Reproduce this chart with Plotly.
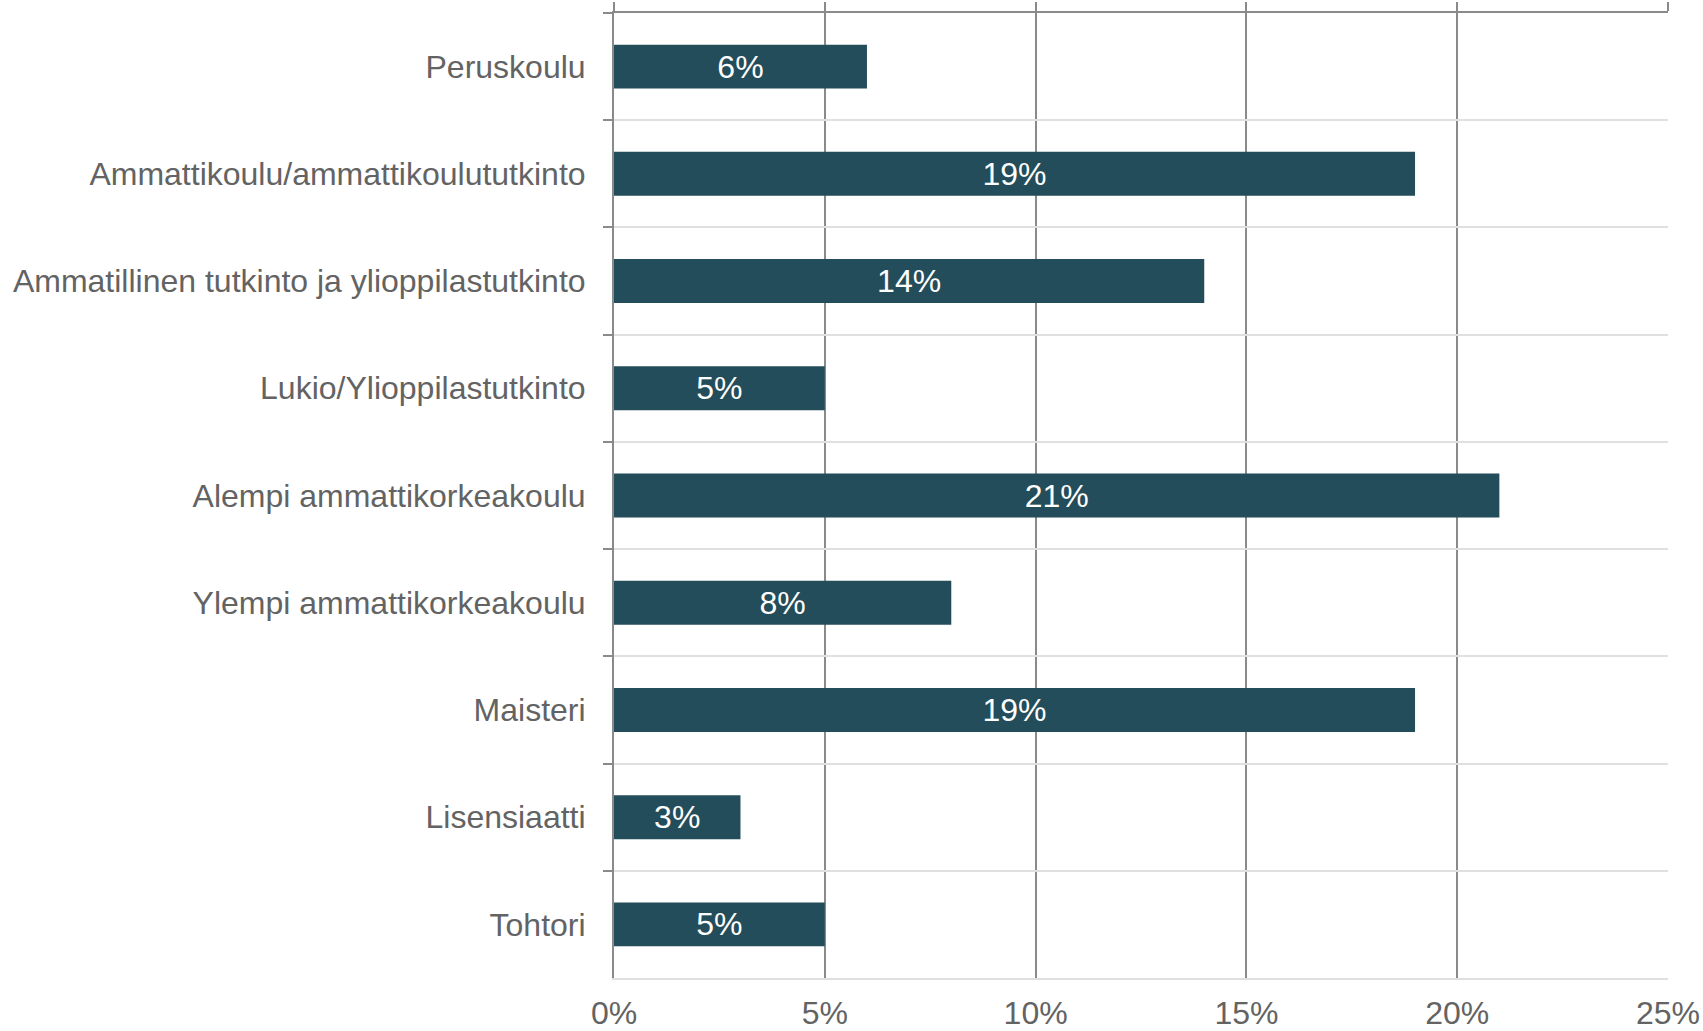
import plotly.graph_objects as go

categories = [
    "Peruskoulu",
    "Ammattikoulu/ammattikoulututkinto",
    "Ammatillinen tutkinto ja ylioppilastutkinto",
    "Lukio/Ylioppilastutkinto",
    "Alempi ammattikorkeakoulu",
    "Ylempi ammattikorkeakoulu",
    "Maisteri",
    "Lisensiaatti",
    "Tohtori",
]
values = [6, 19, 14, 5, 21, 8, 19, 3, 5]
x_ticks = [0, 5, 10, 15, 20, 25]
x_tick_labels = ["0%", "5%", "10%", "15%", "20%", "25%"]

BAR = "#234D5A"
DARK = "#8a8a8a"
LIGHT = "#e0e0e0"
TXT = "#636363"
FONT = "Liberation Sans, Arial, sans-serif"
FS = 32

fig = go.Figure()
fig.add_trace(go.Bar(
    x=values, y=categories, orientation="h",
    marker=dict(color=BAR, line=dict(width=0)),
    text=[f"{v}%" for v in values], textposition="inside",
    insidetextanchor="middle",
    textfont=dict(color="white", size=FS, family=FONT),
    hoverinfo="skip",
))
# invisible helper trace so the top (mirror) axis is rendered
fig.add_trace(go.Scatter(
    x=[x_ticks[0]], y=[categories[0]], xaxis="x2", mode="markers",
    marker=dict(opacity=0), hoverinfo="skip", showlegend=False,
))

fig.update_layout(
    width=1703, height=1031,
    margin=dict(l=614, r=35, t=13, b=53, autoexpand=False),
    paper_bgcolor="white", plot_bgcolor="white",
    bargap=0.59,
    showlegend=False,
    font=dict(family=FONT, size=FS, color=TXT),
    uniformtext=dict(mode=False),
    xaxis=dict(
        range=[0, 25], tickvals=x_ticks, ticktext=x_tick_labels,
        showgrid=True, gridcolor=DARK, gridwidth=2,
        zeroline=False, automargin=False,
        showline=True, linecolor=LIGHT, linewidth=2,
        ticks="", tickfont=dict(size=FS, color=TXT, family=FONT),
        ticklabelstandoff=6,
    ),
    xaxis2=dict(
        overlaying="x", side="top", range=[0, 25], tickvals=x_ticks,
        showticklabels=False, showgrid=False, zeroline=False, automargin=False,
        showline=True, linecolor=DARK, linewidth=2,
        ticks="outside", ticklen=9, tickcolor=DARK, tickwidth=2,
    ),
    yaxis=dict(
        categoryorder="array", categoryarray=categories, autorange="reversed",
        tickson="boundaries", ticks="outside", ticklen=9,
        tickcolor=DARK, tickwidth=2, automargin=False,
        showgrid=True, gridcolor=LIGHT, gridwidth=2,
        showline=True, linecolor=DARK, linewidth=2,
        tickfont=dict(size=FS, color=TXT, family=FONT),
        ticklabelstandoff=20,
    ),
)

fig.write_html("out.html", config={"displayModeBar": False},
               post_script="document.body.style.margin='0';")
